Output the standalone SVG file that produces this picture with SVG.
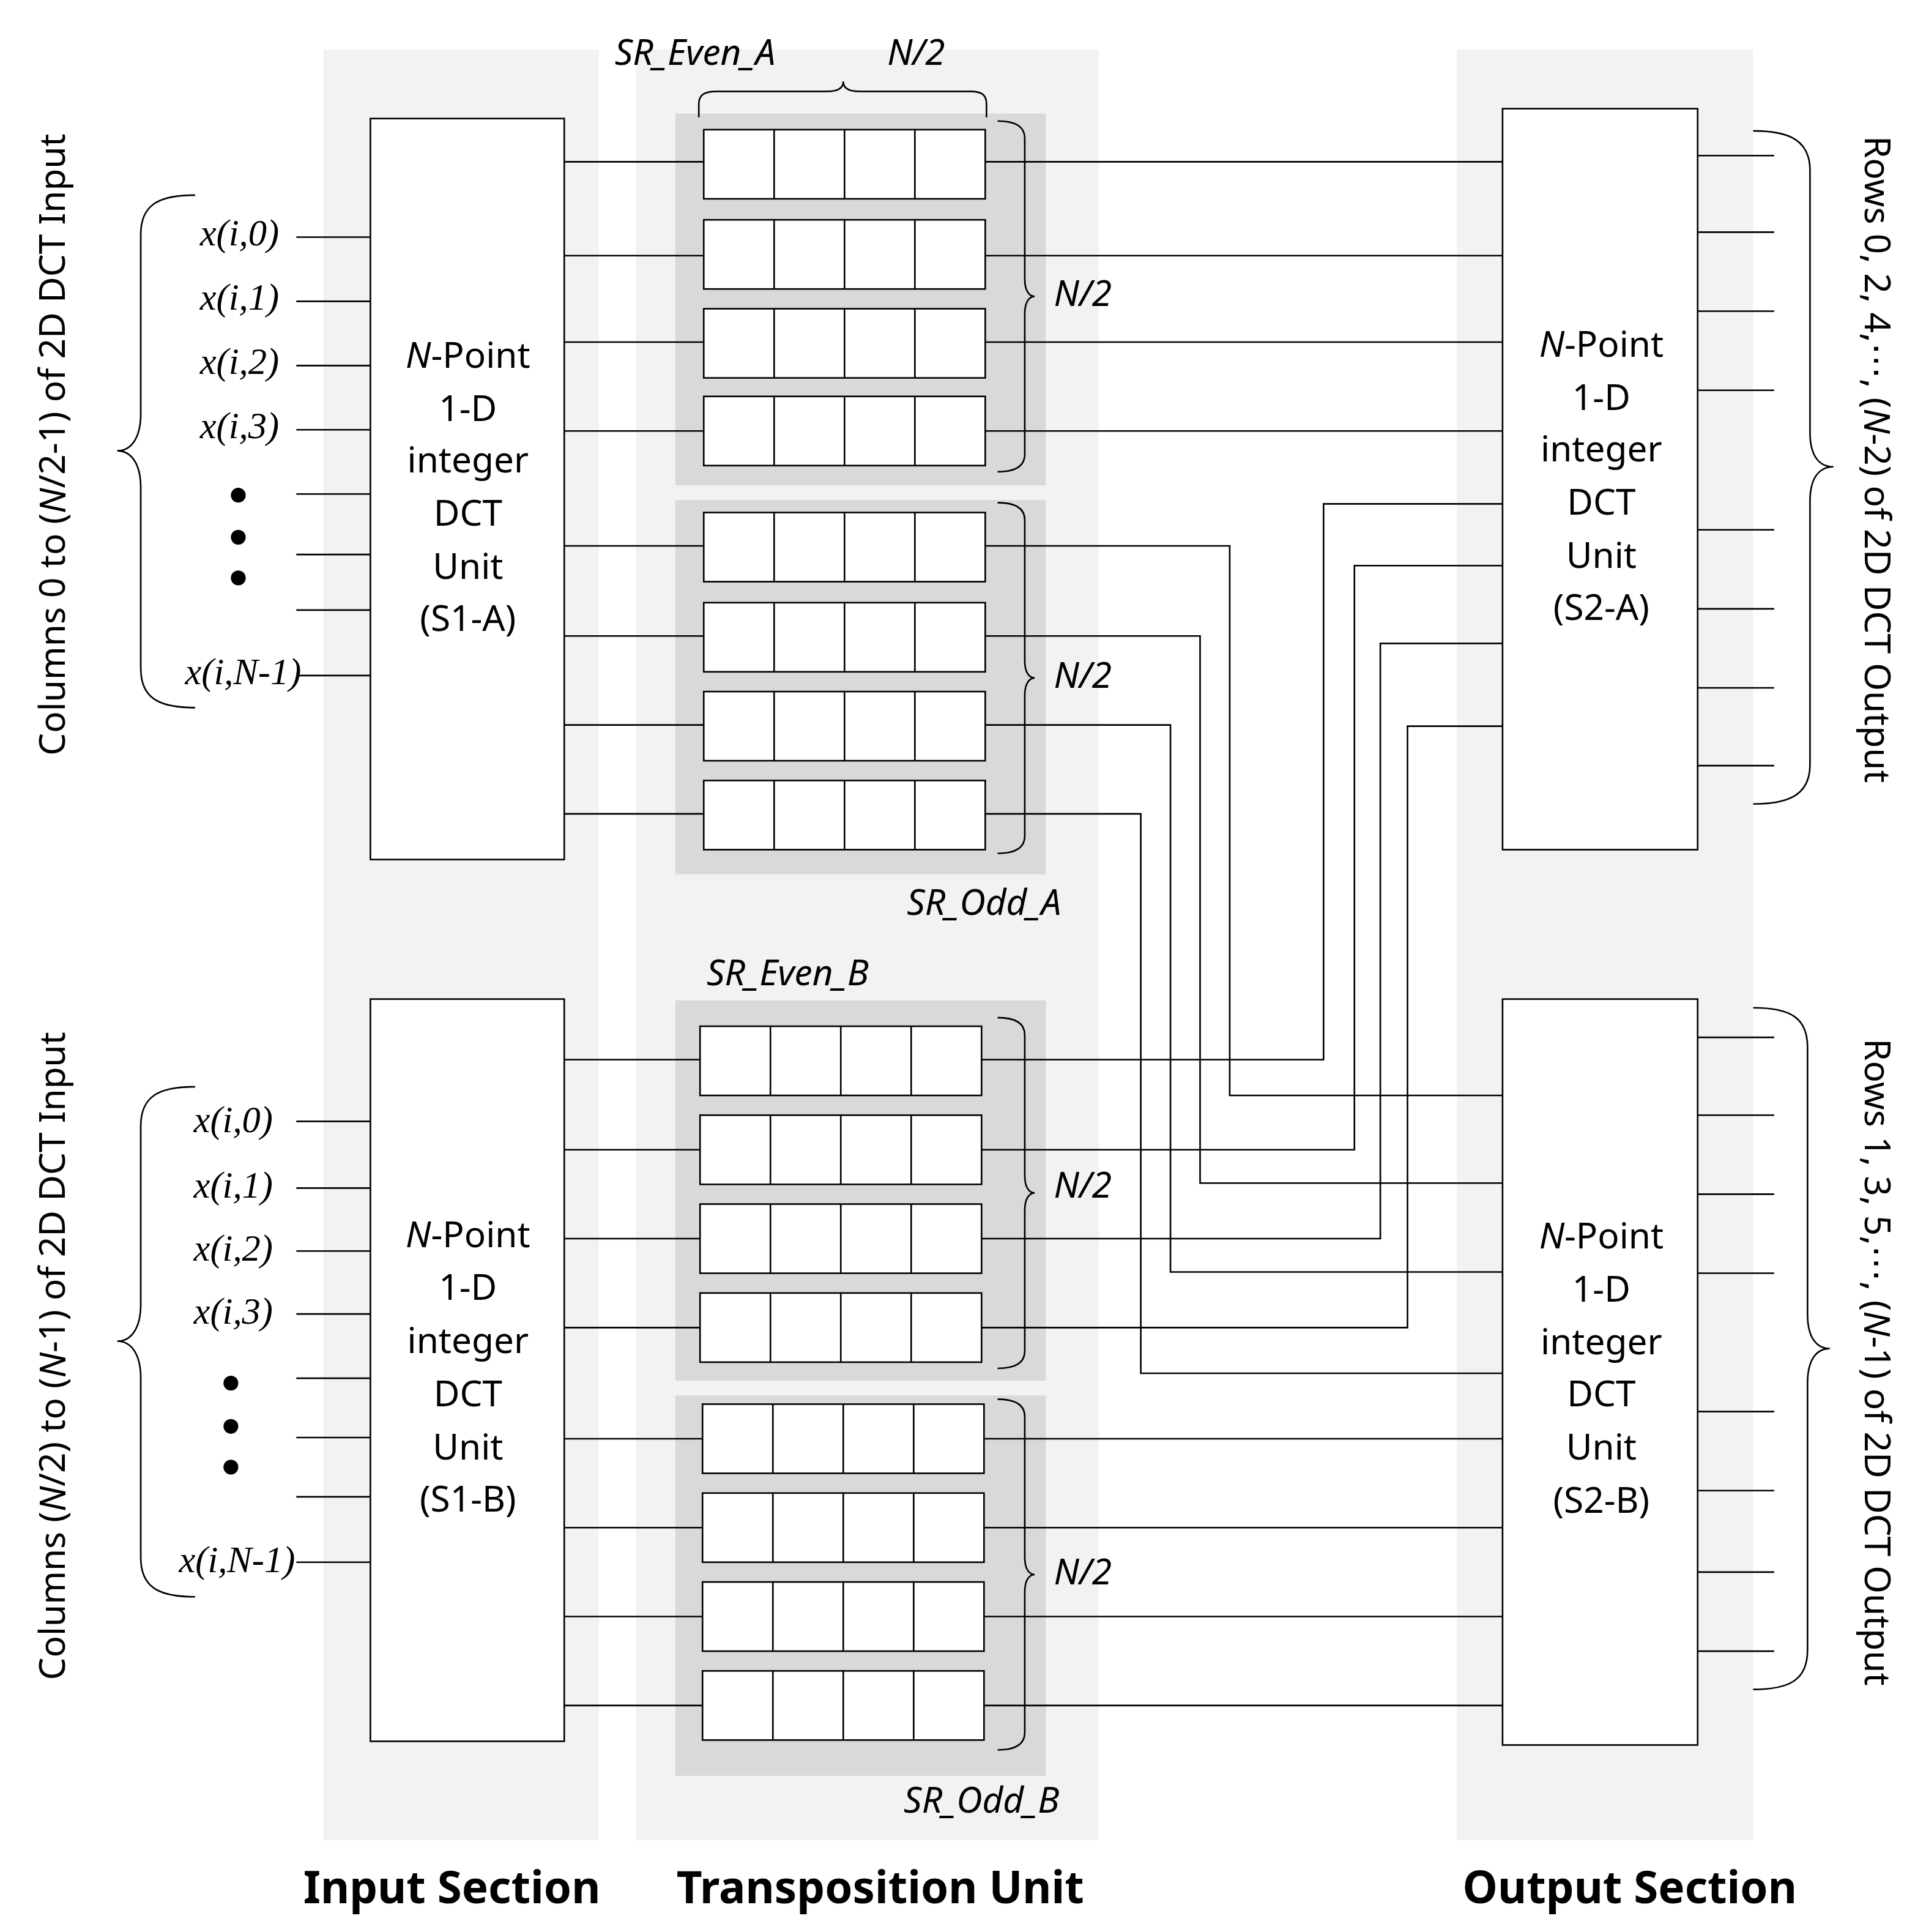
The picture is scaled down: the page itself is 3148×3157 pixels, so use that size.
<svg xmlns="http://www.w3.org/2000/svg" width="3148" height="3157" viewBox="0 0 3148 3157">
<style>
.bg{fill:#f2f2f2}.grp{fill:#d9d9d9}
.box{fill:#fff;stroke:#000;stroke-width:1.3}
.ln{fill:none;stroke:#000;stroke-width:1.3}
.t{font-family:"Noto Sans","Open Sans",sans-serif;font-size:29px;text-anchor:middle;dominant-baseline:middle}
.it{font-style:italic}
.x{font-family:"Liberation Serif",serif;font-size:30px;font-style:italic;text-anchor:end;dominant-baseline:middle}
.b{font-family:"Noto Sans","Open Sans",sans-serif;font-size:36px;font-weight:bold;text-anchor:middle}
</style>
<defs>
<g id="reg"><rect class="box" x="0" y="0" width="228" height="56"/><path class="ln" d="M57 0V56M114 0V56M171 0V56"/></g>
<path id="rb" class="ln" d="M0 0C14 0 22 4 22 14V128C22 138 26 142 30 142C26 142 22 146 22 156V270C22 280 14 284 0 284"/>
</defs>
<rect width="3148" height="3157" fill="#fff"/>
<g transform="scale(2.018)">
<g id="backgrounds">
<rect class="bg" x="262" y="40" width="223" height="1450"/>
<rect class="bg" x="515" y="40" width="375" height="1450"/>
<rect class="bg" x="1180" y="40" width="240" height="1450"/>
<rect class="grp" x="547" y="92" width="300" height="301"/>
<rect class="grp" x="547" y="405" width="300" height="303"/>
<rect class="grp" x="547" y="810" width="300" height="308"/>
<rect class="grp" x="547" y="1130" width="300" height="308"/>
</g>
<g id="connectors">
<path class="ln" d="M240 192H300M240 244H300M240 296H300M240 348H300M240 400H300M240 449H300M240 494H300M240 547H300"/>
<path class="ln" d="M240 908H300M240 962H300M240 1013H300M240 1064H300M240 1116H300M240 1164H300M240 1212H300M240 1265H300"/>
<path class="ln" d="M457 131H570M457 207H570M457 277H570M457 349H570M457 442H570M457 515H570M457 587H570M457 659H570"/>
<path class="ln" d="M457 858H567M457 931H567M457 1003H567M457 1075H567M457 1165H569M457 1237H569M457 1309H569M457 1381H569"/>
<path class="ln" d="M798 131H1217M798 207H1217M798 277H1217M798 349H1217"/>
<path class="ln" d="M798 442H996V887H1217M798 515H972V958H1217M798 587H948V1030H1217M798 659H924V1112H1217"/>
<path class="ln" d="M795 858H1072V408H1217M795 931H1097V458H1217M795 1003H1118V521H1217M795 1075H1140V588H1217"/>
<path class="ln" d="M797 1165H1217M797 1237H1217M797 1309H1217M797 1381H1217"/>
<path class="ln" d="M1375 126H1437M1375 188H1437M1375 252H1437M1375 316H1437M1375 429H1437M1375 493H1437M1375 557H1437M1375 620H1437"/>
<path class="ln" d="M1375 840H1437M1375 903H1437M1375 967H1437M1375 1031H1437M1375 1143H1437M1375 1207H1437M1375 1273H1437M1375 1337H1437"/>
</g>
<g id="braces">
<use href="#rb" x="808" y="98"/>
<use href="#rb" x="808" y="407"/>
<use href="#rb" x="808" y="824"/>
<use href="#rb" x="808" y="1133"/>
<path class="ln" d="M158 158C128 158 114 166 114 190V335C114 355 106 365 95 365C106 365 114 375 114 395V541C114 565 128 573 158 573"/>
<path class="ln" d="M158 880C128 880 114 888 114 912V1056C114 1076 106 1086 95 1086C106 1086 114 1096 114 1116V1261C114 1285 128 1293 158 1293"/>
<path class="ln" d="M1420 106C1450 106 1466 114 1466 138V350C1466 370 1474 378 1485 378C1474 378 1466 386 1466 406V619C1466 643 1450 651 1420 651"/>
<path class="ln" d="M1420 816C1450 816 1464 824 1464 848V1064C1464 1084 1472 1092 1482 1092C1472 1092 1464 1100 1464 1120V1336C1464 1360 1450 1368 1420 1368"/>
<path class="ln" d="M566 95V84C566 76 572 74 580 74H670C678 74 683 72 683 66C683 72 688 74 696 74H786C794 74 799 76 799 84V95"/>
</g>
<g id="S1-A"><rect class="box" x="300" y="96" width="157" height="600"/>
<text class="t" x="379" y="290"><tspan class="it">N</tspan>-Point</text><text class="t" x="379" y="333">1-D</text><text class="t" x="379" y="375">integer</text><text class="t" x="379" y="418">DCT</text><text class="t" x="379" y="461">Unit</text><text class="t" x="379" y="503">(S1-A)</text></g>
<g id="S1-B"><rect class="box" x="300" y="809" width="157" height="601"/>
<text class="t" x="379" y="1002"><tspan class="it">N</tspan>-Point</text><text class="t" x="379" y="1045">1-D</text><text class="t" x="379" y="1088">integer</text><text class="t" x="379" y="1131">DCT</text><text class="t" x="379" y="1174">Unit</text><text class="t" x="379" y="1216">(S1-B)</text></g>
<g id="S2-A"><rect class="box" x="1217" y="88" width="158" height="600"/>
<text class="t" x="1297" y="281"><tspan class="it">N</tspan>-Point</text><text class="t" x="1297" y="324">1-D</text><text class="t" x="1297" y="366">integer</text><text class="t" x="1297" y="409">DCT</text><text class="t" x="1297" y="452">Unit</text><text class="t" x="1297" y="494">(S2-A)</text></g>
<g id="S2-B"><rect class="box" x="1217" y="809" width="158" height="604"/>
<text class="t" x="1297" y="1003"><tspan class="it">N</tspan>-Point</text><text class="t" x="1297" y="1046">1-D</text><text class="t" x="1297" y="1089">integer</text><text class="t" x="1297" y="1131">DCT</text><text class="t" x="1297" y="1174">Unit</text><text class="t" x="1297" y="1217">(S2-B)</text></g>
<g id="SR_Even_A"><use href="#reg" x="570" y="105"/><use href="#reg" x="570" y="178"/><use href="#reg" x="570" y="250"/><use href="#reg" x="570" y="321"/></g>
<g id="SR_Odd_A"><use href="#reg" x="570" y="415"/><use href="#reg" x="570" y="488"/><use href="#reg" x="570" y="560"/><use href="#reg" x="570" y="632"/></g>
<g id="SR_Even_B"><use href="#reg" x="567" y="831"/><use href="#reg" x="567" y="903"/><use href="#reg" x="567" y="975"/><use href="#reg" x="567" y="1047"/></g>
<g id="SR_Odd_B"><use href="#reg" x="569" y="1137"/><use href="#reg" x="569" y="1209"/><use href="#reg" x="569" y="1281"/><use href="#reg" x="569" y="1353"/></g>
<g id="labels">
<text class="t it" x="563" y="45">SR_Even_A</text>
<text class="t it" x="742" y="45">N/2</text>
<text class="t it" x="797" y="733">SR_Odd_A</text>
<text class="t it" x="638" y="790">SR_Even_B</text>
<text class="t it" x="795" y="1460">SR_Odd_B</text>
<text class="t it" x="877" y="240">N/2</text>
<text class="t it" x="877" y="549">N/2</text>
<text class="t it" x="877" y="962">N/2</text>
<text class="t it" x="877" y="1275">N/2</text>
<text class="x" x="226" y="192">x(i,0)</text><text class="x" x="226" y="244">x(i,1)</text><text class="x" x="226" y="296">x(i,2)</text><text class="x" x="226" y="348">x(i,3)</text><text class="x" x="244" y="547">x(i,N-1)</text>
<text class="x" x="221" y="910">x(i,0)</text><text class="x" x="221" y="963">x(i,1)</text><text class="x" x="221" y="1014">x(i,2)</text><text class="x" x="221" y="1065">x(i,3)</text><text class="x" x="239" y="1266">x(i,N-1)</text>
<circle cx="193" cy="401" r="6"/><circle cx="193" cy="435" r="6"/><circle cx="193" cy="468" r="6"/>
<circle cx="187" cy="1120" r="6"/><circle cx="187" cy="1155" r="6"/><circle cx="187" cy="1188" r="6"/>
<text class="t" transform="translate(45 360) rotate(-90)">Columns 0 to (<tspan class="it">N</tspan>/2-1) of 2D DCT Input</text>
<text class="t" transform="translate(45 1098) rotate(-90)">Columns (<tspan class="it">N</tspan>/2) to (<tspan class="it">N</tspan>-1) of 2D DCT Input</text>
<text class="t" transform="translate(1518 372) rotate(90)">Rows 0, 2, 4,⋯, (<tspan class="it">N</tspan>-2) of 2D DCT Output</text>
<text class="t" transform="translate(1518 1103) rotate(90)">Rows 1, 3, 5,⋯, (<tspan class="it">N</tspan>-1) of 2D DCT Output</text>
<text class="b" x="366" y="1541">Input Section</text>
<text class="b" x="713" y="1541">Transposition Unit</text>
<text class="b" x="1320" y="1541">Output Section</text>
</g>
</g>
</svg>
